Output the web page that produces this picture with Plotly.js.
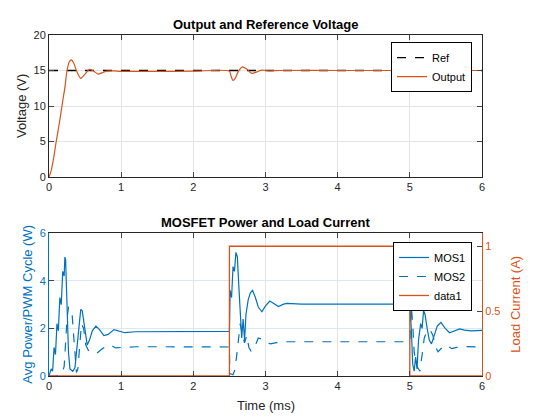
<!DOCTYPE html>
<html>
<head>
<meta charset="utf-8">
<script src="https://cdn.plot.ly/plotly-3.0.1.min.js"></script>
<style>html,body{margin:0;padding:0;background:#fff;}#chart{width:539px;height:420px;}</style>
</head>
<body>
<div id="chart"></div>
<script>
// ---- Top panel: Output and Reference Voltage ----
const refTime = [0, 6];
const refVolt = [15, 15];
const outTime = [0, 0.03, 0.06, 0.1, 0.15, 0.19, 0.22, 0.25, 0.28, 0.31, 0.34, 0.38, 0.44, 0.5, 0.56, 0.62, 0.68, 0.74, 0.8, 0.9, 1.0, 1.5, 2.0, 2.5, 2.52, 2.55, 2.58, 2.62, 2.68, 2.74, 2.81, 2.88, 2.95, 3.05, 3.2, 4, 5, 6];
const outVolt = [0, 0.9, 2.4, 5.0, 8.0, 10.7, 12.6, 15.0, 16.2, 16.5, 16.1, 15.0, 13.9, 14.5, 15.15, 14.9, 14.5, 14.7, 14.9, 14.95, 14.88, 14.88, 14.9, 14.9, 14.3, 13.6, 13.9, 14.8, 15.5, 15.2, 14.6, 14.8, 15.05, 14.95, 15.0, 15.0, 15.0, 15.0];

// ---- Bottom panel: MOSFET Power and Load Current ----
const mos1Time = [0, 0.03, 0.05, 0.07, 0.09, 0.11, 0.13, 0.15, 0.17, 0.19, 0.21, 0.22, 0.23, 0.25, 0.27, 0.29, 0.33, 0.36, 0.38, 0.40, 0.42, 0.44, 0.46, 0.48, 0.50, 0.53, 0.56, 0.6, 0.65, 0.7, 0.76, 0.82, 0.9, 0.97, 1.05, 1.2, 1.5, 2.0, 2.5,
  2.51, 2.53, 2.55, 2.57, 2.59, 2.61, 2.63, 2.65, 2.67, 2.69, 2.71, 2.73, 2.76, 2.79, 2.82, 2.86, 2.9, 2.95, 3.0, 3.06, 3.12, 3.18, 3.25, 3.3, 3.5, 4, 4.5, 5.0,
  5.02, 5.04, 5.06, 5.08, 5.1, 5.12, 5.15, 5.17, 5.19, 5.21, 5.24, 5.27, 5.3, 5.34, 5.38, 5.43, 5.49, 5.55, 5.62, 5.69, 5.76, 5.85, 6];
const mos1Power = [0, 0.3, 0.2, 1.2, 0.9, 2.2, 1.9, 3.3, 3.0, 4.4, 4.2, 5.0, 4.9, 3.0, 1.0, 0.3, 0.2, 0.35, 1.0, 1.8, 2.4, 2.8, 2.75, 2.3, 1.8, 1.3, 1.5, 1.9, 2.1, 1.95, 1.7, 1.75, 1.95, 1.88, 1.82, 1.86, 1.87, 1.88, 1.88,
  3.6, 3.3, 4.6, 4.4, 5.2, 5.0, 3.8, 2.4, 1.6, 2.4, 1.5, 2.6, 3.2, 3.5, 3.6, 3.3, 2.9, 2.7, 2.95, 3.15, 3.05, 2.92, 3.02, 3.05, 3.02, 3.02, 3.02, 3.02,
  2.0, 0.5, 0.2, 0.8, 0.3, 1.5, 2.2, 2.0, 2.75, 2.6, 2.0, 1.5, 1.35, 1.7, 2.1, 2.25, 2.0, 1.82, 1.9, 1.98, 1.93, 1.9, 1.92];
const mos2Time = [0, 0.1, 0.15, 0.18, 0.21, 0.23, 0.25, 0.27, 0.30, 0.32, 0.34, 0.36, 0.38, 0.40, 0.42, 0.45, 0.48, 0.51, 0.55, 0.6, 0.66, 0.72, 0.8, 0.86, 0.92, 1.0, 1.2, 1.5, 2.0, 2.5,
  2.505, 2.55, 2.58, 2.6, 2.62, 2.65, 2.68, 2.71, 2.74, 2.77, 2.8, 2.84, 2.9, 2.95, 3.0, 3.07, 3.15, 3.25, 3.5, 4, 4.5, 5.0,
  5.02, 5.04, 5.06, 5.1, 5.14, 5.17, 5.2, 5.24, 5.28, 5.32, 5.36, 5.39, 5.45, 5.51, 5.58, 5.65, 5.75, 6];
const mos2Power = [0, 0, 0.05, 0.1, 0.4, 1.5, 2.4, 2.9, 2.8, 2.6, 1.8, 0.8, 0.15, 0.3, 1.2, 2.2, 2.0, 1.3, 1.05, 1.0, 0.95, 1.1, 1.28, 1.3, 1.18, 1.2, 1.23, 1.23, 1.22, 1.22,
  0.1, 0.05, 0.3, 0.9, 1.6, 2.2, 1.7, 1.4, 1.7, 1.2, 1.05, 1.15, 1.6, 1.55, 1.42, 1.35, 1.4, 1.44, 1.44, 1.44, 1.44, 1.44,
  2.9, 2.2, 1.0, 0.4, 0.2, 1.0, 1.6, 1.9, 1.95, 1.7, 1.2, 1.02, 1.2, 1.3, 1.15, 1.2, 1.24, 1.22];
const loadTime = [0, 2.5, 2.5, 5, 5, 6];
const loadCurrent = [0, 0, 1, 1, 0, 0];

const xTicks = [0, 1, 2, 3, 4, 5, 6];
const topYTicks = [0, 5, 10, 15, 20];
const powerTicks = [0, 2, 4, 6];
const currentTicks = [0, 0.5, 1];

const BLUE = '#0072BD', ORANGE = '#D95319', DARK = '#262626';
const FONT = 'Liberation Sans, Arial, Helvetica, sans-serif';

const traces = [
  {x: refTime, y: refVolt, name: 'Ref', type: 'scatter', mode: 'lines',
   line: {color: '#000000', width: 1.4, dash: 'dash'}, xaxis: 'x', yaxis: 'y', legend: 'legend'},
  {x: outTime, y: outVolt, name: 'Output', type: 'scatter', mode: 'lines',
   line: {color: ORANGE, width: 1.2, shape: 'spline', smoothing: 0.8}, xaxis: 'x', yaxis: 'y', legend: 'legend'},
  {x: mos1Time, y: mos1Power, name: 'MOS1', type: 'scatter', mode: 'lines',
   line: {color: BLUE, width: 1.2}, xaxis: 'x2', yaxis: 'y2', legend: 'legend2'},
  {x: mos2Time, y: mos2Power, name: 'MOS2', type: 'scatter', mode: 'lines',
   line: {color: BLUE, width: 1.2, dash: 'dash'}, xaxis: 'x2', yaxis: 'y2', legend: 'legend2'},
  {x: loadTime, y: loadCurrent, name: 'data1', type: 'scatter', mode: 'lines',
   line: {color: ORANGE, width: 1.3}, xaxis: 'x2', yaxis: 'y3', legend: 'legend2'}
];

const axCommon = {
  showline: true, linewidth: 1, ticks: 'inside', ticklen: 5, tickwidth: 1,
  showgrid: true, gridwidth: 1, zeroline: false,
  tickfont: {family: FONT, size: 11, color: DARK}
};

const layout = {
  width: 539, height: 420,
  margin: {l: 49, r: 57, t: 35, b: 44, pad: 0},
  paper_bgcolor: '#ffffff', plot_bgcolor: '#ffffff',
  font: {family: FONT, size: 11, color: DARK},
  showlegend: true,
  xaxis: Object.assign({}, axCommon, {domain: [0, 1], anchor: 'y', range: [0, 6], tickvals: xTicks,
    linecolor: DARK, gridcolor: '#e3e3e3', mirror: 'ticks'}),
  yaxis: Object.assign({}, axCommon, {domain: [0.5836, 1], anchor: 'x', range: [0, 20], tickvals: topYTicks,
    linecolor: DARK, gridcolor: '#e3e3e3', mirror: 'ticks'}),
  xaxis2: Object.assign({}, axCommon, {domain: [0, 1], anchor: 'y2', range: [0, 6], tickvals: xTicks,
    linecolor: DARK, gridcolor: '#e3e3e3', mirror: 'ticks'}),
  yaxis2: Object.assign({}, axCommon, {domain: [0, 0.4185], anchor: 'x2', range: [0, 6], tickvals: powerTicks,
    linecolor: BLUE, gridcolor: '#dbe8f4', tickfont: {family: FONT, size: 11, color: BLUE}}),
  yaxis3: Object.assign({}, axCommon, {overlaying: 'y2', anchor: 'x2', side: 'right', range: [0, 1.1],
    tickvals: currentTicks, ticktext: ['0', '0.5', '1'], showgrid: false,
    linecolor: ORANGE, tickfont: {family: FONT, size: 11, color: ORANGE}}),
  legend: {x: 0.977, y: 0.979, xanchor: 'right', yanchor: 'top', bgcolor: '#ffffff',
    bordercolor: '#000000', borderwidth: 1, font: {family: FONT, size: 11, color: '#000000'},
    tracegroupgap: 0, itemwidth: 30},
  legend2: {x: 0.977, y: 0.393, xanchor: 'right', yanchor: 'top', bgcolor: '#ffffff',
    bordercolor: '#000000', borderwidth: 1, font: {family: FONT, size: 11, color: '#000000'},
    tracegroupgap: 0, itemwidth: 30},
  annotations: [
    {text: '<b>Output and Reference Voltage</b>', xref: 'paper', yref: 'paper', x: 0.5, y: 1,
     yshift: 11, xanchor: 'center', yanchor: 'middle', showarrow: false,
     font: {family: FONT, size: 13, color: '#000000'}},
    {text: '<b>MOSFET Power and Load Current</b>', xref: 'paper', yref: 'paper', x: 0.5, y: 0.4185,
     yshift: 11, xanchor: 'center', yanchor: 'middle', showarrow: false,
     font: {family: FONT, size: 13, color: '#000000'}},
    {text: 'Voltage (V)', xref: 'paper', yref: 'paper', x: 0, xshift: -27, y: 0.7918,
     xanchor: 'center', yanchor: 'middle', textangle: -90, showarrow: false,
     font: {family: FONT, size: 13, color: DARK}},
    {text: 'Avg Power/PWM Cycle (W)', xref: 'paper', yref: 'paper', x: 0, xshift: -21, y: 0.2093,
     xanchor: 'center', yanchor: 'middle', textangle: -90, showarrow: false,
     font: {family: FONT, size: 13, color: BLUE}},
    {text: 'Load Current (A)', xref: 'paper', yref: 'paper', x: 1, xshift: 34, y: 0.2093,
     xanchor: 'center', yanchor: 'middle', textangle: -90, showarrow: false,
     font: {family: FONT, size: 13, color: ORANGE}},
    {text: 'Time (ms)', xref: 'paper', yref: 'paper', x: 0.5, y: 0, yshift: -29,
     xanchor: 'center', yanchor: 'middle', showarrow: false,
     font: {family: FONT, size: 13, color: DARK}}
  ]
};

Plotly.newPlot('chart', traces, layout, {staticPlot: true, displayModeBar: false});
</script>
</body>
</html>
